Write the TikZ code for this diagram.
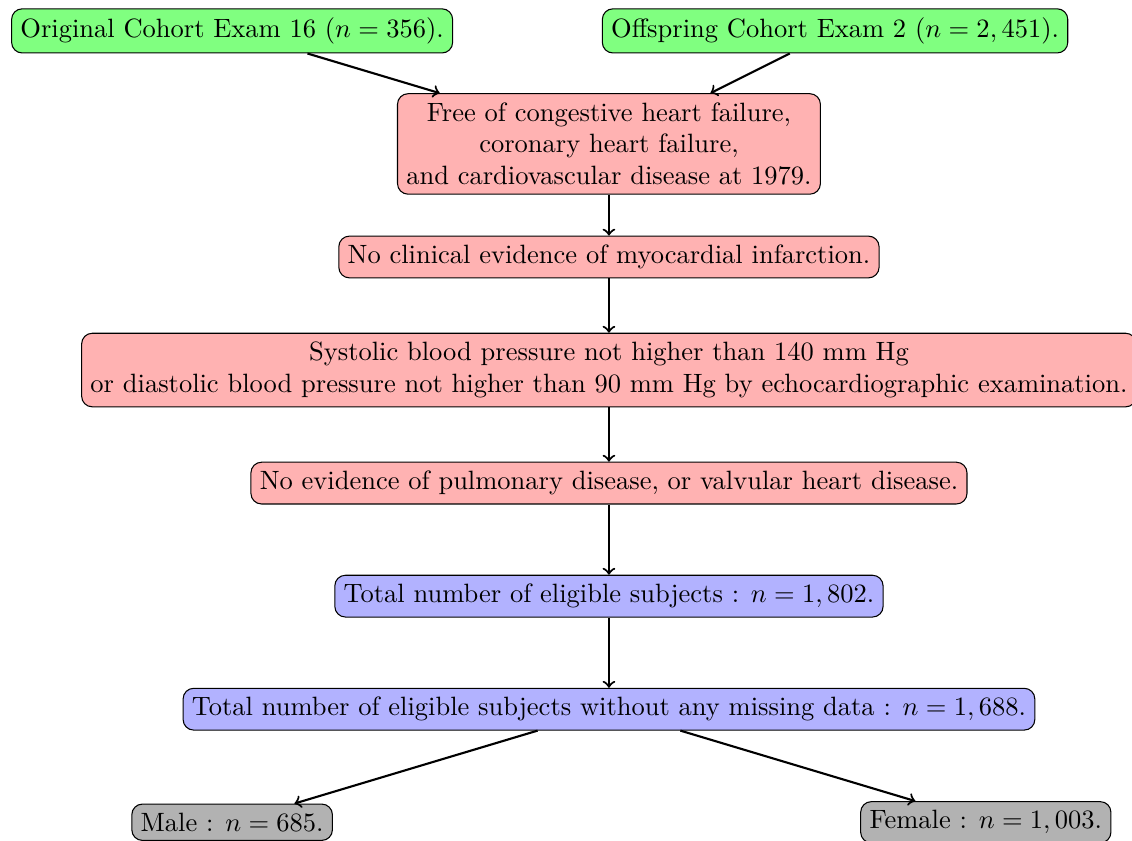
\documentclass[tikz,border=0pt]{standalone}
\usepackage{amssymb}
\usepackage{amsmath}
\usepackage{tikz}
\usetikzlibrary{arrows}

\begin{document}
\begin{tikzpicture}
 \newcommand{\vStep}{1.5}
	\tikzset{box/.style = {draw,rounded corners,align=center}}
	\tikzstyle{cohort} = [box,fill=green!50]
	\tikzstyle{crit} = [box,fill=red!30]
	\tikzstyle{count} = [box,fill=blue!30]
	\tikzstyle{sex} = [box,fill=black!30]
	\tikzstyle{edge} = [->,thick]
	\useasboundingbox (-8.08,-9.24) rectangle (6.94,1.91);
	%cohorts
	\node[cohort] (orig) at (-5,\vStep) {Original Cohort Exam 16 ($n=356$).};
	\node[cohort] (offs) at (3,\vStep) {Offspring Cohort Exam 2 ($n=2,451$).};
	%criteria
	\node[crit] (free) at (0,0) {Free of congestive heart failure,\\ coronary heart failure,\\ and cardiovascular disease at 1979.};
	\node[crit] (noMI) at (0,-\vStep) {No clinical evidence of myocardial infarction.};
	\node[crit] (bp) at (0,-2*\vStep) {Systolic blood pressure not higher than 140 mm Hg\\ or diastolic blood pressure not higher than 90 mm Hg by echocardiographic examination.};
	\node[crit] (noPD) at (0,-3*\vStep) {No evidence of pulmonary disease, or valvular heart disease.};
	%counts
	\node[count] (total) at (0,-4*\vStep) {Total number of eligible subjects : $n=1,802$.};
	\node[count] (full) at (0,-5*\vStep) {Total number of eligible subjects without any missing data : $n=1,688$.};
	\node[sex] (male) at (-5,-6*\vStep) {Male : $n=685$.};
	\node[sex] (female) at (5,-6*\vStep) {Female : $n=1,003$.};
	%edges
	\draw[edge] (orig) to (free);
	\draw[edge] (offs) to (free);
	\draw[edge] (free) to (noMI);
	\draw[edge] (noMI) to (bp);
	\draw[edge] (bp) to (noPD);
	\draw[edge] (noPD) to (total);
	\draw[edge] (total) to (full);
	\draw[edge] (full) to (male);
	\draw[edge] (full) to (female);
\end{tikzpicture}
\end{document}
